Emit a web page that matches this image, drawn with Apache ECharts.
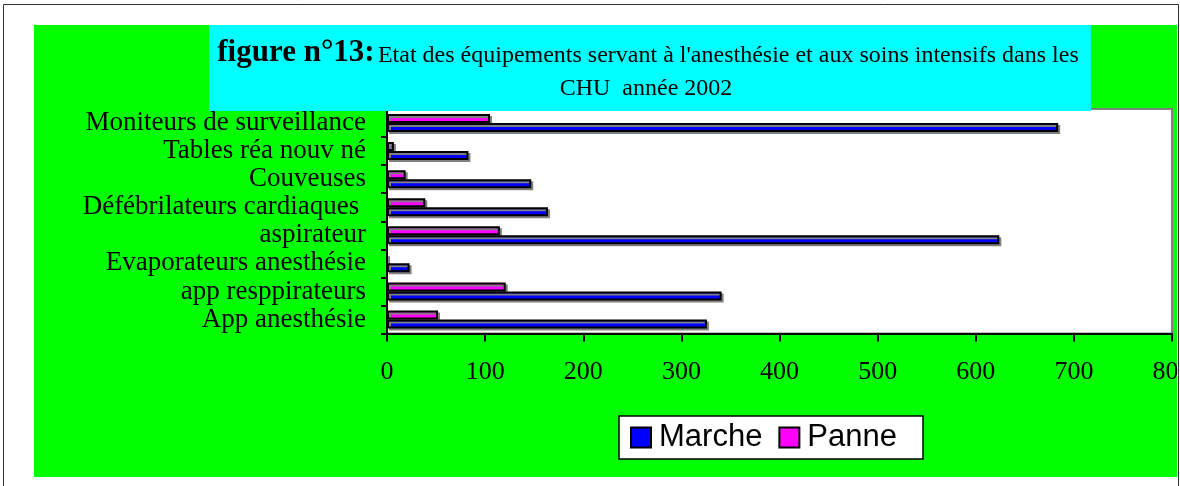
<!DOCTYPE html>
<html>
<head>
<meta charset="utf-8">
<script src="https://cdn.jsdelivr.net/npm/echarts@6/dist/echarts.min.js"></script>
<style>
html,body{margin:0;padding:0;background:#fff;}
#chart{width:1180px;height:486px;}
</style>
</head>
<body>
<div id="chart"></div>
<script>
// Data (categories from bottom to top)
const categories = ['App anesthésie', 'app resppirateurs', 'Evaporateurs anesthésie', 'aspirateur', 'Défébrilateurs cardiaques ', 'Couveuses', 'Tables réa nouv né', 'Moniteurs de surveillance'];
const marche = [326, 341, 23, 624, 164, 147, 83, 684];
const panne = [52, 121, 0, 115, 39, 19, 7, 105];
const xTicks = [0, 100, 200, 300, 400, 500, 600, 700, 800];
const seriesNames = ['Marche', 'Panne'];
const titleBold = 'figure n°13:';
const titleLine1 = "Etat des équipements servant à l'anesthésie et aux soins intensifs dans les";
const titleLine2 = 'CHU  année 2002';

const serif = 'Liberation Serif';
const sans = 'Liberation Sans';

const chart = echarts.init(document.getElementById('chart'), null, {renderer: 'canvas'});

const barStyle = (color) => ({
  color: color,
  borderColor: '#000',
  borderWidth: 2,
  shadowColor: '#808080',
  shadowOffsetX: 2,
  shadowOffsetY: 2,
  shadowBlur: 0
});

const option = {
  backgroundColor: '#fff',
  animation: false,
  graphic: [
    {type: 'rect', z: -10, shape: {x: 34, y: 25, width: 1143, height: 452}, style: {fill: '#00ff00'}},
    {type: 'rect', z: 5, shape: {x: 209, y: 25, width: 882, height: 86}, style: {fill: '#00ffff'}},
    {type: 'text', z: 7, x: 648, y: 68, style: {
      text: '{b|' + titleBold + '} {r|' + titleLine1 + '}',
      align: 'center', verticalAlign: 'bottom',
      rich: {
        b: {fontFamily: serif, fontWeight: 'bold', fontSize: 31, fill: '#000', verticalAlign: 'bottom'},
        r: {fontFamily: serif, fontSize: 24, fill: '#000', verticalAlign: 'bottom'}
      }
    }},
    {type: 'text', z: 7, x: 646, y: 89, style: {
      text: titleLine2, align: 'center', verticalAlign: 'middle',
      fontFamily: serif, fontSize: 24, fill: '#000'
    }},
    {type: 'rect', z: 100, shape: {x: 1177.5, y: 0, width: 3, height: 486}, style: {fill: '#fff'}},
    {type: 'polyline', z: 101, shape: {points: [[3.5, 486], [3.5, 4.5], [1178.5, 4.5], [1178.5, 486]]}, style: {stroke: '#333', lineWidth: 1, fill: null}}
  ],
  grid: {
    left: 387, right: 8, top: 109, bottom: 152.5,
    outerBoundsMode: 'none', containLabel: false,
    show: true, backgroundColor: '#fff', borderColor: '#808080', borderWidth: 2
  },
  legend: {
    data: seriesNames,
    left: 619, top: 416,
    orient: 'horizontal',
    backgroundColor: '#fff', borderColor: '#000', borderWidth: 1.5, borderRadius: 0,
    padding: [6, 26, 6, 11],
    itemWidth: 20, itemHeight: 20, itemGap: 16,
    icon: 'rect',
    itemStyle: {borderColor: '#000', borderWidth: 2, shadowBlur: 0, shadowOffsetX: 0, shadowOffsetY: 0, shadowColor: 'transparent'},
    textStyle: {fontFamily: sans, fontSize: 31, color: '#000', padding: [2, 0, 0, 3]}
  },
  xAxis: {
    type: 'value', min: xTicks[0], max: xTicks[xTicks.length - 1], interval: 100,
    axisLine: {show: true, lineStyle: {color: '#000', width: 2}},
    axisTick: {show: true, length: 8, lineStyle: {color: '#000', width: 2}},
    splitLine: {show: false},
    axisLabel: {fontFamily: serif, fontSize: 26, color: '#000', margin: 26}
  },
  yAxis: {
    type: 'category', data: categories,
    axisLine: {show: true, lineStyle: {color: '#000', width: 2}},
    axisTick: {show: true, length: 6, alignWithLabel: false, interval: 0, lineStyle: {color: '#000', width: 2}},
    axisLabel: {fontFamily: serif, fontSize: 27, color: '#000', margin: 21, interval: 0, padding: [5, 0, 0, 0]}
  },
  series: [
    {name: seriesNames[1], type: 'bar', data: panne, barWidth: 9, barGap: '0%', itemStyle: barStyle('#ff00ff')},
    {name: seriesNames[0], type: 'bar', data: marche, barWidth: 9, barGap: '0%', itemStyle: barStyle('#0000ff')}
  ]
};
chart.setOption(option);
</script>
</body>
</html>
